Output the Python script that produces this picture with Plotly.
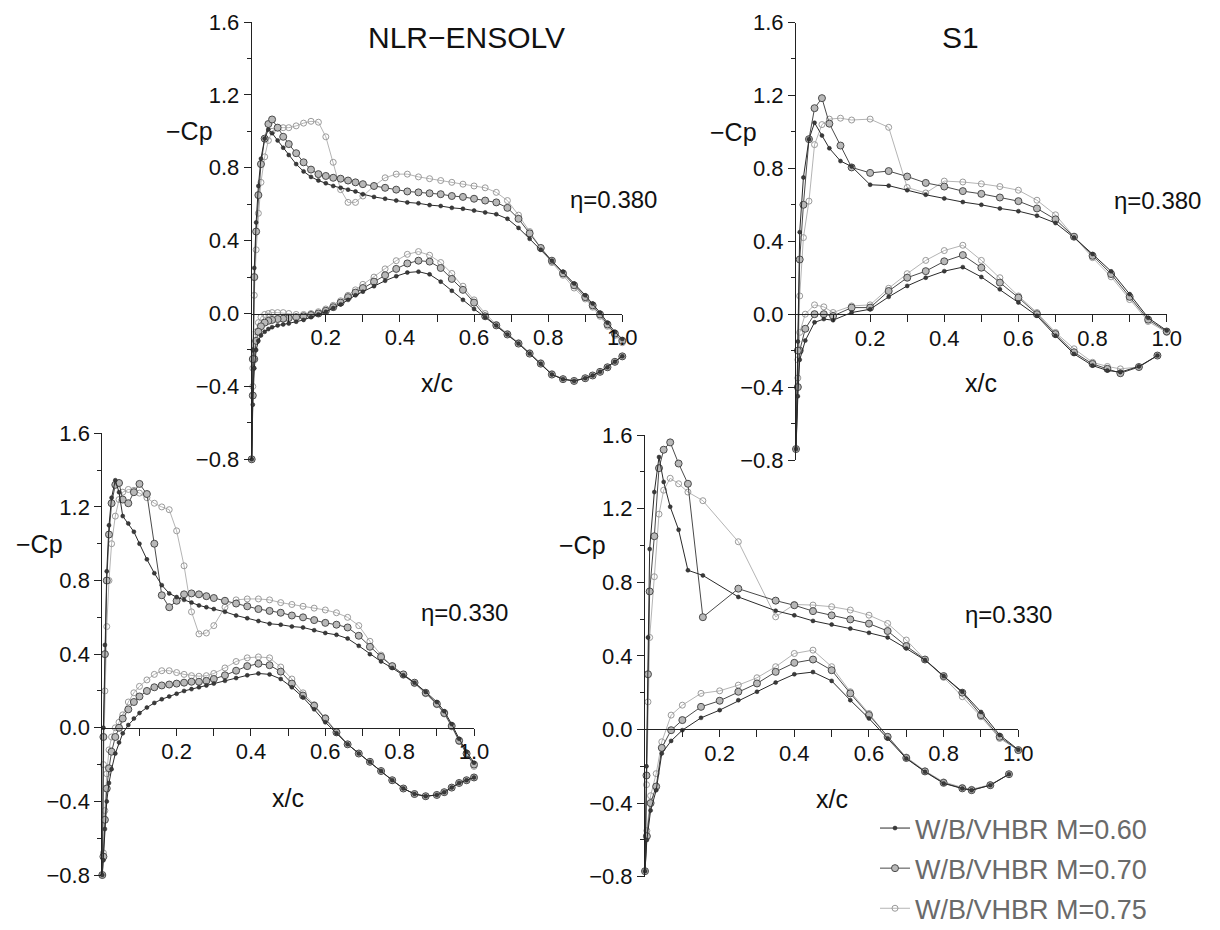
import plotly.graph_objects as go

# ---------------- data ----------------
MACH_LABELS = ["W/B/VHBR M=0.60", "W/B/VHBR M=0.70", "W/B/VHBR M=0.75"]

# NLR-ENSOLV computational stations (shared by upper and lower surface)
X_NLR = [0.0, 0.003, 0.007, 0.012, 0.018, 0.025, 0.035, 0.045, 0.055, 0.07, 0.085, 0.10,
         0.12, 0.14, 0.16, 0.18, 0.20, 0.22, 0.24, 0.26, 0.28, 0.30, 0.33, 0.36, 0.39,
         0.42, 0.45, 0.48, 0.51, 0.54, 0.57, 0.60, 0.63, 0.66, 0.69, 0.72, 0.75, 0.78,
         0.81, 0.84, 0.87, 0.90, 0.92, 0.94, 0.96, 0.98, 1.0]

# NLR-ENSOLV, eta = 0.380  (-Cp)
NLR380_UP_060 = [-0.80, -0.20, 0.25, 0.50, 0.70, 0.85, 0.96, 1.01, 0.99, 0.95, 0.91, 0.87,
                 0.82, 0.78, 0.75, 0.73, 0.715, 0.70, 0.69, 0.68, 0.67, 0.655, 0.64, 0.63, 0.62,
                 0.61, 0.605, 0.595, 0.59, 0.58, 0.575, 0.565, 0.555, 0.545, 0.52, 0.47, 0.41, 0.35,
                 0.29, 0.23, 0.165, 0.10, 0.055, 0.005, -0.05, -0.10, -0.14]
NLR380_UP_070 = [-0.80, -0.25, 0.20, 0.45, 0.65, 0.82, 0.96, 1.04, 1.065, 1.02, 0.97, 0.93,
                 0.88, 0.83, 0.79, 0.765, 0.755, 0.745, 0.74, 0.73, 0.72, 0.71, 0.70, 0.69, 0.68,
                 0.67, 0.665, 0.66, 0.655, 0.645, 0.64, 0.63, 0.62, 0.61, 0.58, 0.52, 0.44, 0.36,
                 0.29, 0.22, 0.155, 0.09, 0.045, -0.005, -0.06, -0.11, -0.15]
NLR380_UP_075 = [-0.80, -0.30, 0.10, 0.35, 0.55, 0.72, 0.86, 0.95, 1.00, 1.02, 1.02, 1.02,
                 1.03, 1.045, 1.055, 1.05, 0.97, 0.83, 0.68, 0.61, 0.61, 0.645, 0.70, 0.745, 0.765,
                 0.765, 0.75, 0.74, 0.73, 0.72, 0.71, 0.70, 0.69, 0.665, 0.62, 0.54, 0.45, 0.36,
                 0.28, 0.21, 0.14, 0.08, 0.035, -0.015, -0.07, -0.12, -0.16]
NLR380_LO_060 = [-0.80, -0.50, -0.30, -0.20, -0.15, -0.12, -0.10, -0.085, -0.075, -0.065, -0.06, -0.055,
                 -0.045, -0.035, -0.02, -0.005, 0.01, 0.03, 0.05, 0.075, 0.10, 0.12, 0.15, 0.18, 0.205,
                 0.225, 0.23, 0.215, 0.175, 0.125, 0.075, 0.025, -0.02, -0.065, -0.115, -0.165, -0.22, -0.275,
                 -0.335, -0.36, -0.37, -0.355, -0.34, -0.32, -0.295, -0.265, -0.235]
NLR380_LO_070 = [-0.80, -0.45, -0.25, -0.15, -0.10, -0.07, -0.05, -0.04, -0.035, -0.03, -0.028, -0.025,
                 -0.02, -0.015, -0.008, 0.0, 0.015, 0.035, 0.06, 0.09, 0.115, 0.14, 0.175, 0.21, 0.245,
                 0.275, 0.29, 0.285, 0.25, 0.19, 0.13, 0.06, -0.015, -0.065, -0.115, -0.165, -0.22, -0.275,
                 -0.335, -0.36, -0.37, -0.355, -0.34, -0.32, -0.295, -0.265, -0.235]
NLR380_LO_075 = [-0.80, -0.40, -0.20, -0.10, -0.05, -0.02, -0.005, 0.0, 0.005, 0.005, 0.005, 0.0,
                 -0.005, -0.005, 0.0, 0.01, 0.025, 0.045, 0.07, 0.10, 0.13, 0.16, 0.20, 0.245, 0.29,
                 0.325, 0.34, 0.32, 0.28, 0.22, 0.15, 0.075, 0.0, -0.06, -0.11, -0.16, -0.215, -0.27,
                 -0.33, -0.36, -0.37, -0.355, -0.34, -0.32, -0.295, -0.265, -0.235]

# NLR-ENSOLV, eta = 0.330
NLR330_UP_060 = [-0.80, 0.0, 0.45, 0.85, 1.10, 1.25, 1.345, 1.28, 1.15, 1.11, 1.065, 1.0,
                 0.915, 0.84, 0.775, 0.73, 0.71, 0.695, 0.68, 0.665, 0.655, 0.645, 0.63, 0.61, 0.595,
                 0.58, 0.565, 0.56, 0.55, 0.545, 0.53, 0.515, 0.505, 0.485, 0.445, 0.40, 0.36, 0.325,
                 0.285, 0.245, 0.195, 0.14, 0.09, 0.02, -0.06, -0.13, -0.19]
NLR330_UP_070 = [-0.80, -0.05, 0.40, 0.80, 1.05, 1.22, 1.32, 1.33, 1.24, 1.22, 1.28, 1.325,
                 1.27, 1.00, 0.72, 0.655, 0.69, 0.725, 0.73, 0.725, 0.715, 0.705, 0.69, 0.675, 0.66,
                 0.645, 0.635, 0.625, 0.61, 0.60, 0.585, 0.57, 0.56, 0.545, 0.50, 0.44, 0.385, 0.335,
                 0.29, 0.245, 0.19, 0.13, 0.08, 0.01, -0.07, -0.14, -0.20]
NLR330_UP_075 = [-0.80, -0.20, 0.20, 0.55, 0.80, 1.00, 1.15, 1.24, 1.28, 1.295, 1.29, 1.275,
                 1.25, 1.22, 1.20, 1.185, 1.07, 0.88, 0.63, 0.51, 0.515, 0.555, 0.655, 0.695, 0.70,
                 0.70, 0.695, 0.68, 0.67, 0.66, 0.65, 0.64, 0.625, 0.60, 0.555, 0.47, 0.395, 0.335,
                 0.285, 0.24, 0.185, 0.125, 0.075, 0.005, -0.075, -0.145, -0.21]
NLR330_LO_060 = [-0.80, -0.72, -0.55, -0.40, -0.30, -0.225, -0.14, -0.08, -0.03, 0.015, 0.05, 0.08,
                 0.11, 0.135, 0.155, 0.17, 0.185, 0.20, 0.21, 0.22, 0.23, 0.24, 0.255, 0.27, 0.285,
                 0.295, 0.29, 0.265, 0.22, 0.165, 0.10, 0.03, -0.03, -0.09, -0.14, -0.185, -0.235, -0.285,
                 -0.33, -0.36, -0.372, -0.365, -0.35, -0.325, -0.30, -0.285, -0.27]
NLR330_LO_070 = [-0.80, -0.70, -0.50, -0.33, -0.22, -0.13, -0.05, 0.0, 0.05, 0.10, 0.14, 0.17,
                 0.20, 0.22, 0.23, 0.235, 0.24, 0.245, 0.25, 0.25, 0.255, 0.265, 0.285, 0.31, 0.335,
                 0.348, 0.34, 0.305, 0.24, 0.175, 0.12, 0.05, -0.025, -0.09, -0.14, -0.185, -0.235, -0.285,
                 -0.33, -0.36, -0.372, -0.365, -0.35, -0.325, -0.30, -0.285, -0.27]
NLR330_LO_075 = [-0.80, -0.68, -0.45, -0.25, -0.12, -0.05, 0.0, 0.03, 0.07, 0.14, 0.19, 0.225,
                 0.26, 0.29, 0.31, 0.31, 0.30, 0.29, 0.283, 0.28, 0.283, 0.295, 0.325, 0.36, 0.38,
                 0.385, 0.38, 0.33, 0.265, 0.19, 0.125, 0.055, -0.02, -0.09, -0.14, -0.185, -0.235, -0.285,
                 -0.33, -0.36, -0.372, -0.365, -0.35, -0.325, -0.30, -0.285, -0.27]

# S1 measurement stations, eta = 0.380
S1_380_XU = [0.0, 0.005, 0.01, 0.02, 0.035, 0.05, 0.07, 0.09, 0.12, 0.15, 0.2, 0.25, 0.3, 0.35,
             0.4, 0.45, 0.5, 0.55, 0.6, 0.65, 0.7, 0.75, 0.8, 0.85, 0.9, 0.95, 1.0]
S1_380_XL = [0.0, 0.005, 0.01, 0.025, 0.05, 0.075, 0.1, 0.15, 0.2, 0.25, 0.3, 0.35, 0.4, 0.45,
             0.5, 0.55, 0.6, 0.65, 0.7, 0.75, 0.8, 0.84, 0.875, 0.925, 0.975]
S1_380_UP_060 = [-0.74, -0.15, 0.45, 0.75, 0.96, 1.05, 0.98, 0.91, 0.84, 0.81, 0.71, 0.705, 0.68, 0.655,
                 0.635, 0.615, 0.60, 0.58, 0.565, 0.54, 0.50, 0.42, 0.33, 0.235, 0.11, -0.02, -0.09]
S1_380_UP_070 = [-0.74, -0.20, 0.30, 0.60, 0.96, 1.13, 1.185, 1.045, 0.925, 0.805, 0.775, 0.785, 0.755, 0.72,
                 0.70, 0.675, 0.66, 0.64, 0.62, 0.58, 0.52, 0.425, 0.32, 0.22, 0.095, -0.03, -0.095]
S1_380_UP_075 = [-0.74, -0.25, 0.10, 0.42, 0.62, 0.93, 1.04, 1.07, 1.075, 1.065, 1.07, 1.025, 0.695, 0.665,
                 0.73, 0.725, 0.715, 0.70, 0.68, 0.625, 0.545, 0.425, 0.31, 0.205, 0.08, -0.04, -0.10]
S1_380_LO_060 = [-0.74, -0.45, -0.25, -0.145, -0.045, -0.027, -0.033, 0.009, 0.027, 0.095, 0.155, 0.20, 0.236,
                 0.258, 0.204, 0.136, 0.064, -0.009, -0.118, -0.218, -0.282, -0.309, -0.318, -0.287, -0.227]
S1_380_LO_070 = [-0.74, -0.40, -0.20, -0.08, 0.0, 0.0, -0.01, 0.036, 0.036, 0.127, 0.20, 0.236, 0.29,
                 0.324, 0.255, 0.173, 0.091, 0.0, -0.109, -0.209, -0.273, -0.30, -0.324, -0.29, -0.227]
S1_380_LO_075 = [-0.74, -0.35, -0.10, 0.0, 0.051, 0.04, 0.009, 0.045, 0.051, 0.142, 0.222, 0.295, 0.349,
                 0.378, 0.295, 0.20, 0.10, 0.009, -0.10, -0.19, -0.264, -0.287, -0.30, -0.29, -0.227]

# S1 measurement stations, eta = 0.330
S1_330_XU = [0.0, 0.004, 0.008, 0.0125, 0.025, 0.0375, 0.05, 0.0675, 0.09, 0.115, 0.155, 0.25, 0.35,
             0.4, 0.45, 0.5, 0.55, 0.6, 0.65, 0.7, 0.75, 0.8, 0.85, 0.9, 0.95, 1.0]
S1_330_XL = [0.0, 0.005, 0.015, 0.03, 0.045, 0.07, 0.1, 0.15, 0.2, 0.25, 0.3, 0.35, 0.4, 0.45,
             0.5, 0.55, 0.6, 0.65, 0.7, 0.75, 0.8, 0.85, 0.875, 0.925, 0.975]
S1_330_UP_060 = [-0.77, -0.20, 0.50, 0.98, 1.29, 1.48, 1.345, 1.21, 1.085, 0.865, 0.837, 0.72, 0.645,
                 0.62, 0.59, 0.57, 0.548, 0.525, 0.50, 0.44, 0.377, 0.29, 0.205, 0.095, -0.03, -0.11]
S1_330_UP_070 = [-0.77, -0.25, 0.30, 0.75, 1.05, 1.42, 1.52, 1.56, 1.445, 1.335, 0.61, 0.765, 0.70,
                 0.675, 0.643, 0.62, 0.598, 0.575, 0.535, 0.453, 0.38, 0.29, 0.20, 0.078, -0.04, -0.112]
S1_330_UP_075 = [-0.77, -0.30, 0.15, 0.50, 0.83, 1.17, 1.30, 1.365, 1.335, 1.29, 1.243, 1.02, 0.612,
                 0.679, 0.676, 0.667, 0.649, 0.621, 0.576, 0.486, 0.38, 0.283, 0.178, 0.069, -0.049, -0.112]
S1_330_LO_060 = [-0.77, -0.60, -0.44, -0.33, -0.13, -0.062, -0.004, 0.063, 0.105, 0.159, 0.205, 0.255, 0.30,
                 0.312, 0.264, 0.159, 0.06, -0.049, -0.158, -0.23, -0.293, -0.321, -0.33, -0.303, -0.243]
S1_330_LO_070 = [-0.77, -0.58, -0.40, -0.31, -0.10, -0.004, 0.051, 0.123, 0.156, 0.205, 0.25, 0.313, 0.362,
                 0.38, 0.322, 0.196, 0.078, -0.04, -0.155, -0.228, -0.29, -0.32, -0.33, -0.303, -0.243]
S1_330_LO_075 = [-0.77, -0.55, -0.36, -0.24, -0.067, 0.078, 0.132, 0.196, 0.21, 0.241, 0.281, 0.341, 0.413,
                 0.431, 0.341, 0.205, 0.087, -0.04, -0.15, -0.225, -0.285, -0.315, -0.325, -0.30, -0.243]

PANEL_TITLES = ["NLR\u2212ENSOLV", "S1", "", ""]
ETA_LABELS = ["\u03b7=0.380", "\u03b7=0.380", "\u03b7=0.330", "\u03b7=0.330"]
X_TICKS = [0.2, 0.4, 0.6, 0.8, 1.0]
X_TICKTEXT = ["0.2", "0.4", "0.6", "0.8", "1.0"]
Y_TICKS = [-0.8, -0.4, 0.0, 0.4, 0.8, 1.2, 1.6]
Y_TICKTEXT = ["\u22120.8", "\u22120.4", "0.0", "0.4", "0.8", "1.2", "1.6"]

panels = [
    dict(xu=X_NLR, xl=X_NLR,
         up=[NLR380_UP_060, NLR380_UP_070, NLR380_UP_075],
         lo=[NLR380_LO_060, NLR380_LO_070, NLR380_LO_075]),
    dict(xu=S1_380_XU, xl=S1_380_XL,
         up=[S1_380_UP_060, S1_380_UP_070, S1_380_UP_075],
         lo=[S1_380_LO_060, S1_380_LO_070, S1_380_LO_075]),
    dict(xu=X_NLR, xl=X_NLR,
         up=[NLR330_UP_060, NLR330_UP_070, NLR330_UP_075],
         lo=[NLR330_LO_060, NLR330_LO_070, NLR330_LO_075]),
    dict(xu=S1_330_XU, xl=S1_330_XL,
         up=[S1_330_UP_060, S1_330_UP_070, S1_330_UP_075],
         lo=[S1_330_LO_060, S1_330_LO_070, S1_330_LO_075]),
]

# ---------------- layout geometry ----------------
OFF = 8                 # default page margin in front of the figure
W, H = 1220, 960        # figure size (the part past the window is simply not shown)
# page pixels: (x at 0, x at 1.0, y-pixel of 1.6, y-pixel of -0.8)
GEOM = [(251.7, 622.3, 22.0, 459.3),
        (796.0, 1166.7, 22.5, 460.0),
        (102.3, 474.0, 433.3, 875.0),
        (645.0, 1018.3, 435.0, 876.7)]


def px_x(p):
    return (p - OFF) / W


def px_y(p):
    return 1 - (p - OFF) / H


FONT = "Liberation Sans, Arial, Helvetica, sans-serif"

styles = [
    dict(line=dict(color="#2a2a2a", width=1),
         marker=dict(symbol="circle", size=4, color="#3a3a3a", line=dict(color="#222", width=0.5))),
    dict(line=dict(color="#4a4a4a", width=1),
         marker=dict(symbol="circle", size=7, color="#b8b8b8", line=dict(color="#4a4a4a", width=1))),
    dict(line=dict(color="#b4b4b4", width=1),
         marker=dict(symbol="circle-open", size=6, color="#9a9a9a", line=dict(width=1))),
]

fig = go.Figure()
layout = {}
annotations = []

for i, (p, g) in enumerate(zip(panels, GEOM)):
    k = "" if i == 0 else str(i + 1)
    xa, ya = "x" + k, "y" + k
    x0, x1, ytop, ybot = g
    y0p = px_y(ybot)
    y1p = px_y(ytop)
    zero_pos = y0p + (y1p - y0p) * (0.8 / 2.4)

    layout["xaxis" + k] = dict(
        domain=[px_x(x0), px_x(x1)], range=[0, 1], anchor="free", position=zero_pos,
        automargin=False, ticklabeloverflow="allow",
        showline=True, linecolor="#222", linewidth=1, showgrid=False, zeroline=False,
        ticks="outside", ticklen=7, tickcolor="#222", tickwidth=1,
        tickvals=X_TICKS, ticktext=X_TICKTEXT, ticklabelstandoff=-3,
        minor=dict(tickvals=[0.1, 0.3, 0.5, 0.7, 0.9], ticks="outside", ticklen=7,
                   tickcolor="#222", tickwidth=1),
        tickfont=dict(family=FONT, size=22, color="#111"),
    )
    layout["yaxis" + k] = dict(
        domain=[y0p, y1p], range=[-0.8, 1.6], anchor=xa,
        automargin=False, ticklabeloverflow="allow",
        showline=True, linecolor="#222", linewidth=1, showgrid=False, zeroline=False,
        ticks="outside", ticklen=7, tickcolor="#222", tickwidth=1,
        tickvals=Y_TICKS, ticktext=Y_TICKTEXT, ticklabelstandoff=0,
        minor=dict(tickvals=[-0.6, -0.2, 0.2, 0.6, 1.0, 1.4], ticks="outside", ticklen=4,
                   tickcolor="#222", tickwidth=1),
        tickfont=dict(family=FONT, size=22, color="#111"),
    )

    for m in [2, 1, 0]:
        xs = p["xl"][::-1] + p["xu"][1:]
        ys = p["lo"][m][::-1] + p["up"][m][1:]
        fig.add_trace(go.Scatter(
            x=xs, y=ys, mode="lines+markers", xaxis=xa, yaxis=ya,
            name=MACH_LABELS[m], legendgroup=MACH_LABELS[m], legendrank=m + 1,
            showlegend=(i == 0), cliponaxis=False,
            line=styles[m]["line"], marker=styles[m]["marker"],
        ))

    if PANEL_TITLES[i]:
        annotations.append(dict(
            text=PANEL_TITLES[i], xref=xa, yref=ya, x=0.58 if i == 0 else 0.445, y=1.515,
            showarrow=False, font=dict(family=FONT, size=30, color="#111")))
    annotations.append(dict(
        text=ETA_LABELS[i], xref=xa, yref=ya, x=0.975, y=0.625,
        showarrow=False, font=dict(family=FONT, size=24, color="#111")))
    annotations.append(dict(
        text="x/c", xref=xa, yref=ya, x=0.5, y=-0.38,
        showarrow=False, font=dict(family=FONT, size=25, color="#111")))
    annotations.append(dict(
        text="\u2212Cp", xref="paper", yref=ya, x=px_x(x0 - 37), xanchor="right", y=1.0,
        showarrow=False, font=dict(family=FONT, size=25, color="#111")))

fig.update_layout(
    width=W, height=H, margin=dict(l=0, r=0, t=0, b=0, autoexpand=False),
    paper_bgcolor="white", plot_bgcolor="rgba(0,0,0,0)",
    showlegend=True,
    legend=dict(x=867 / W, y=px_y(804), xanchor="left", yanchor="top",
                font=dict(family=FONT, size=27, color="#6a6a6a"),
                bgcolor="rgba(0,0,0,0)", tracegroupgap=2, itemwidth=30),
    annotations=annotations,
    **layout,
)

fig.write_html("out.html")
